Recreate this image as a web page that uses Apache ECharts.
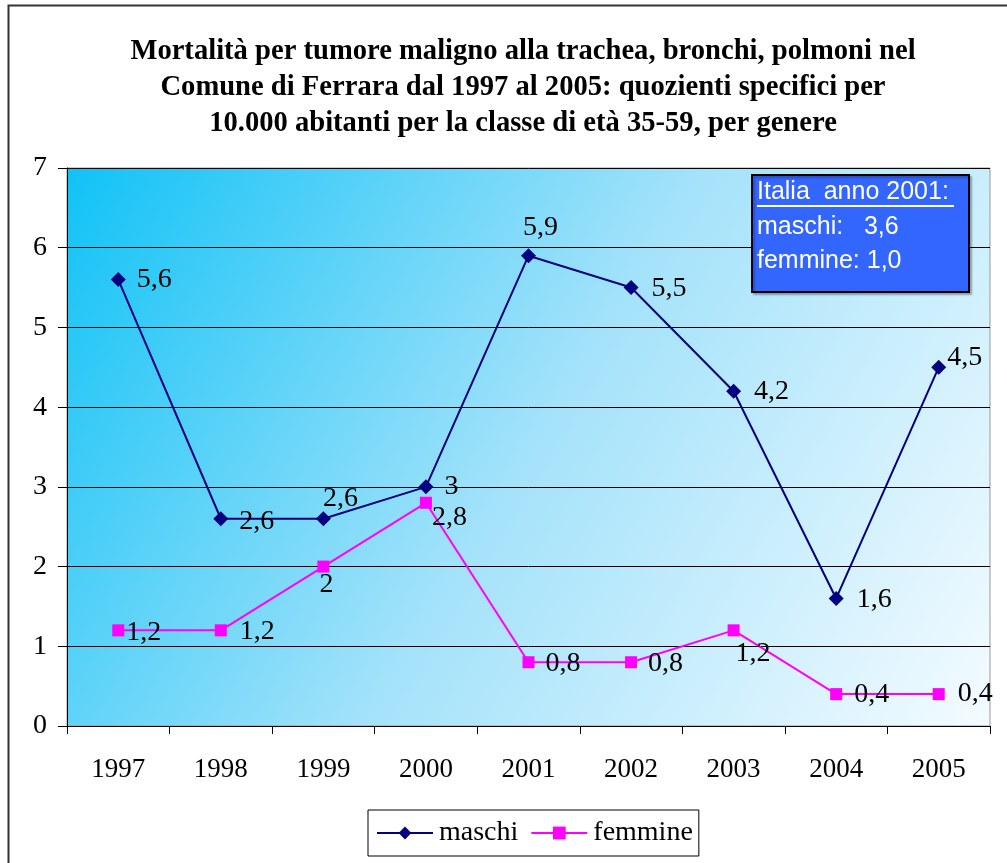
<!DOCTYPE html>
<html>
<head>
<meta charset="utf-8">
<script src="https://cdn.jsdelivr.net/npm/echarts@6/dist/echarts.min.js"></script>
<style>
  html, body { margin: 0; padding: 0; background: #fff; }
  #chart { width: 1007px; height: 863px; }
</style>
</head>
<body>
<div id="chart"></div>
<script>
var anni = ["1997", "1998", "1999", "2000", "2001", "2002", "2003", "2004", "2005"];
var maschi = [5.6, 2.6, 2.6, 3, 5.9, 5.5, 4.2, 1.6, 4.5];
var femmine = [1.2, 1.2, 2, 2.8, 0.8, 0.8, 1.2, 0.4, 0.4];
// posizione delle etichette come nell'originale
var posMaschi = ["right", "right", "top", "right", "top", "right", "right", "right", "right"];
var posFemmine = ["right", "right", "bottom", "right", "right", "right", "right", "right", "right"];

function fmt(v) {
  return String(v).replace(".", ",");
}

function punti(valori, pos, offs) {
  return valori.map(function (v, i) {
    return {
      value: v,
      label: { position: pos[i], offset: offs[i] || [0, 0] }
    };
  });
}

var chart = echarts.init(document.getElementById("chart"));
chart.setOption({
  animation: false,
  title: {
    text: "Mortalità per tumore maligno alla trachea, bronchi, polmoni nel\nComune di Ferrara dal 1997 al 2005: quozienti specifici per\n10.000 abitanti per la classe di età 35-59, per genere",
    left: 518,
    top: 29,
    textAlign: "center",
    textStyle: {
      fontFamily: "Liberation Serif",
      fontWeight: "bold",
      fontSize: 28.6,
      lineHeight: 36,
      color: "#000"
    }
  },
  grid: {
    left: 67,
    right: 17,
    top: 168,
    bottom: 137,
    show: true,
    borderColor: "#999",
    borderWidth: 1,
    backgroundColor: new echarts.graphic.LinearGradient(0, 0, 1, 1, [
      { offset: 0, color: "#10c2f6" },
      { offset: 0.5, color: "#a3e2fa" },
      { offset: 1, color: "#f4fbff" }
    ])
  },
  legend: {
    data: ["maschi", "femmine"],
    left: 368,
    top: 810,
    width: 334,
    height: 48,
    padding: [9, 6, 9, 8],
    borderColor: "#000",
    borderWidth: 1,
    itemWidth: 56,
    itemHeight: 16,
    itemGap: 12,
    textStyle: {
      fontFamily: "Liberation Serif",
      fontSize: 28,
      color: "#000",
      padding: [0, 0, 0, 1]
    }
  },
  xAxis: {
    type: "category",
    data: anni,
    boundaryGap: true,
    axisLine: { lineStyle: { color: "#000", width: 1 } },
    axisTick: { show: true, length: 8, lineStyle: { color: "#000" } },
    axisLabel: {
      margin: 30,
      fontFamily: "Liberation Serif",
      fontSize: 27,
      color: "#000"
    }
  },
  yAxis: {
    type: "value",
    min: 0,
    max: 7,
    interval: 1,
    axisLine: { show: true, lineStyle: { color: "#000", width: 1 } },
    axisTick: { show: true, length: 9, lineStyle: { color: "#000" } },
    splitLine: { lineStyle: { color: "#000", width: 1 } },
    axisLabel: {
      margin: 20,
      fontFamily: "Liberation Serif",
      fontSize: 28,
      color: "#000"
    }
  },
  series: [
    {
      name: "maschi",
      type: "line",
      symbol: "diamond",
      symbolSize: 15,
      color: "#000080",
      lineStyle: { color: "#000080", width: 2 },
      label: {
        show: true,
        distance: 11,
        formatter: function (p) { return fmt(p.value); },
        fontFamily: "Liberation Serif",
        fontSize: 28,
        color: "#000"
      },
      data: punti(maschi, posMaschi, [[0, 0], [0, 3], [17, 12], [0, 0], [12, 4], [2, 1], [2, 0], [2, 1], [-10, -10]])
    },
    {
      name: "femmine",
      type: "line",
      symbol: "rect",
      symbolSize: 12,
      color: "#ff00ff",
      lineStyle: { color: "#ff00ff", width: 2 },
      label: {
        show: true,
        distance: 11,
        formatter: function (p) { return fmt(p.value); },
        fontFamily: "Liberation Serif",
        fontSize: 28,
        color: "#000"
      },
      data: punti(femmine, posFemmine, [[-9, 2], [2, 1], [3, -13], [-11, 15], [0, 1], [0, 1], [-15, 23], [1, 1], [2, 0]])
    }
  ],
  graphic: [
    {
      type: "rect",
      shape: { x: 8.5, y: 5.5, width: 1100, height: 900 },
      style: { fill: "none", stroke: "#333", lineWidth: 2 },
      silent: true,
      z: -10
    },
    {
      type: "rect",
      shape: { x: 752, y: 175, width: 217, height: 117 },
      style: {
        fill: "#3366ff",
        stroke: "#000",
        lineWidth: 2,
        shadowColor: "rgba(0,0,0,0.25)",
        shadowOffsetX: 2,
        shadowOffsetY: 2,
        shadowBlur: 2
      },
      z: 100
    },
    {
      type: "text",
      left: 757,
      top: 175,
      z: 101,
      style: {
        text: "Italia  anno 2001:\nmaschi:   3,6\nfemmine: 1,0",
        fontFamily: "Liberation Sans",
        fontSize: 25,
        lineHeight: 34.5,
        fill: "#fff"
      }
    },
    {
      type: "line",
      shape: { x1: 757, y1: 206, x2: 954, y2: 206 },
      style: { stroke: "#fff", lineWidth: 2 },
      z: 101
    }
  ]
});
</script>
</body>
</html>
